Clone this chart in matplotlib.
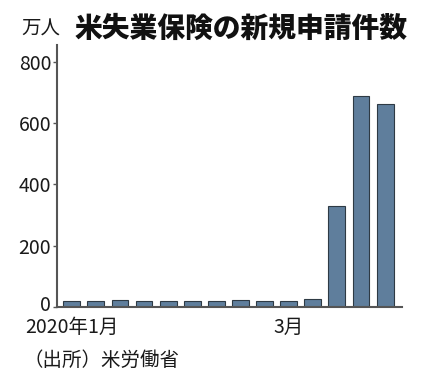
import matplotlib.pyplot as plt
import matplotlib.transforms as mtransforms
import numpy as np

plt.rcParams['font.family'] = ['Noto Sans CJK JP', 'DejaVu Sans']

# weekly initial claims, 10k persons (week ending Jan 4 .. Apr 4, 2020)
weeks = ['1/4', '1/11', '1/18', '1/25', '2/1', '2/8', '2/15', '2/22', '2/29',
         '3/7', '3/14', '3/21', '3/28', '4/4']
claims = [21.7, 20.7, 22.3, 21.6, 20.2, 20.5, 21.4, 21.9, 21.7, 21.1, 28.2, 330.7, 686.7, 660.6]
tick_pos = [0, 9]
tick_labels = ['2020年1月', '3月']

fig = plt.figure(figsize=(4.24, 3.83), dpi=100)
ax = fig.add_axes([0.134, 0.198, 0.814, 0.685])

x = np.arange(len(claims))
ax.bar(x, claims, width=0.7, color='#5f7e9c', edgecolor='#2e3a44', linewidth=0.8, zorder=2)

ax.set_xlim(-0.62, 13.7)
ax.set_ylim(0, 855)
ax.set_yticks([0, 200, 400, 600, 800])
ax.set_xticks(tick_pos)
ax.set_xticklabels(tick_labels)

for s in ['top', 'right']:
    ax.spines[s].set_visible(False)
for s in ['left', 'bottom']:
    ax.spines[s].set_color('#555555')
    ax.spines[s].set_linewidth(1.5)

ax.tick_params(axis='y', length=3, width=1, color='#555555', pad=1, labelsize=14, labelcolor='#1a1a1a')
ax.tick_params(axis='x', length=0, pad=7, labelsize=14, labelcolor='#1a1a1a')

# lift the "0" label a little so it clears the month label below
zero_lbl = ax.get_yticklabels()[0]
zero_lbl.set_transform(zero_lbl.get_transform() +
                       mtransforms.ScaledTranslation(0, 3 / 72, fig.dpi_scale_trans))

fig.text(0.05, 0.925, '万人', fontsize=14, color='#1a1a1a', va='center')
fig.text(0.175, 0.925, '米失業保険の新規申請件数', fontsize=20, fontweight='black',
         color='#111111', va='center')
fig.text(0.055, 0.06, '（出所）米労働省', fontsize=14, color='#1a1a1a', va='center')

fig.savefig('out.png', dpi=100)
